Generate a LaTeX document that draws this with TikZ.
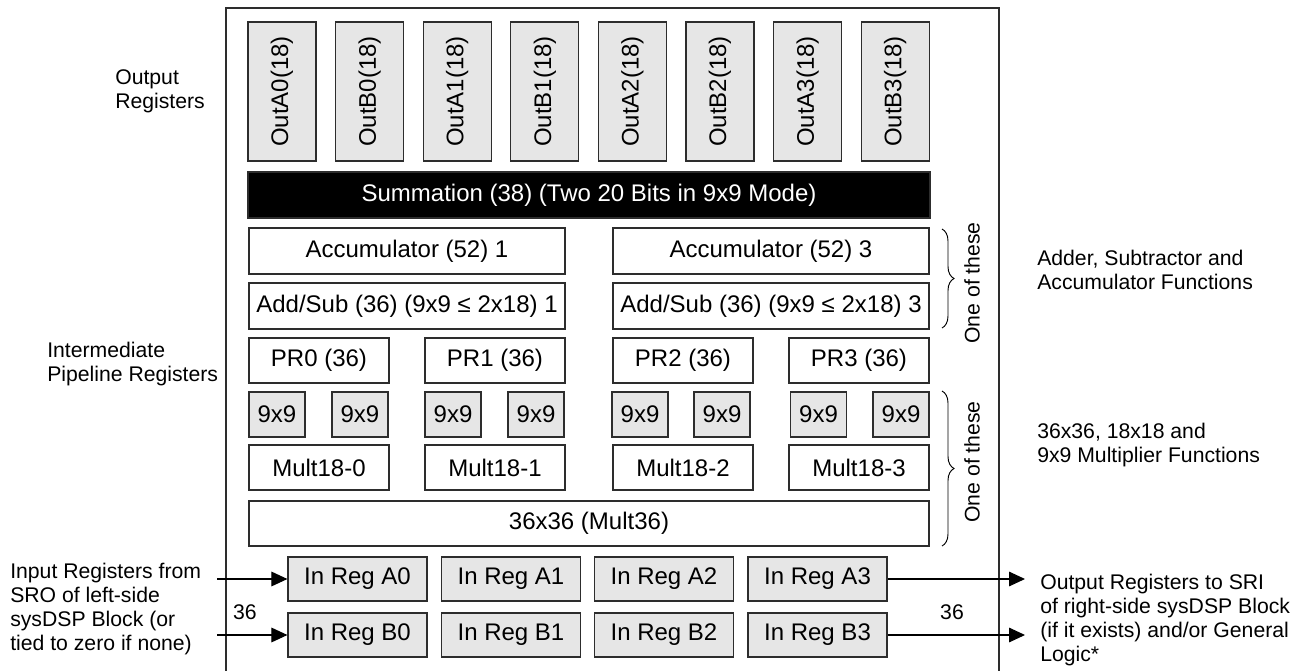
\documentclass[tikz,border=0pt]{standalone}
\usepackage{fontspec}
\setmainfont{Liberation Sans}
\usetikzlibrary{arrows.meta,decorations.pathreplacing}
\definecolor{regfill}{RGB}{230,230,230}
\definecolor{edge}{RGB}{45,45,45}
\newcommand\boxfont{\fontsize{18}{20}\selectfont}
\newcommand\lblfont{\fontsize{15.9}{18}\selectfont}
\begin{document}
\begin{tikzpicture}[x=0.75pt,y=-0.75pt,
  box/.style={draw=edge, line width=0.9pt, inner sep=0pt, font=\boxfont},
  reg/.style={box, fill=regfill},
  pbox/.style 2 args={minimum width=#1*0.75pt, minimum height=#2*0.75pt},
  lbl/.style={font=\lblfont, align=left, inner sep=0pt},
  arr/.style={-{Triangle[length=12pt,width=11pt]}, line width=0.8pt},
  brc/.style={decorate, decoration={brace, amplitude=9pt}, line width=0.7pt},
]
\useasboundingbox (0,0) rectangle (1300,671);
% frame
\draw[edge, line width=1pt] (226,671) -- (226,8) -- (999,8) -- (999,671);
% output registers
\foreach \n [count=\i from 0] in {A0,B0,A1,B1,A2,B2,A3,B3}
  \node[reg, rotate=90, pbox={139}{68}] (out\n) at ({282+87.6*\i},91.5) {Out\n(18)};
% summation
\node[box, fill=black, text=white, pbox={682}{46}] (sum) at (589,195) {Summation (38) (Two 20 Bits in 9x9 Mode)};
% accumulators / add-sub
\node[box, pbox={316}{46}] (acc1) at (407,251) {Accumulator (52) 1};
\node[box, pbox={316}{46}] (acc3) at (771,251) {Accumulator (52) 3};
\node[box, pbox={316}{46}] (add1) at (407,306) {Add/Sub (36) (9x9 ≤ 2x18) 1};
\node[box, pbox={316}{46}] (add3) at (771,306) {Add/Sub (36) (9x9 ≤ 2x18) 3};
% pipeline registers and 18x18 multipliers
\foreach \k/\x in {0/319,1/495,2/683,3/859}{
  \node[box, pbox={140}{45}] (pr\k) at (\x,360.5) {PR\k\ (36)};
  \node[box, pbox={140}{45}] (m\k) at (\x,467.5) {Mult18-\k};
}
% 9x9 multipliers
\foreach \k/\x in {a/277,b/360,c/453,d/536,e/640,f/722,g/818.5,h/901}
  \node[reg, pbox={56}{45}] (nn\k) at (\x,414.5) {9x9};
% 36x36
\node[box, pbox={680}{45}] (m36) at (589,523.5) {36x36 (Mult36)};
% input registers
\foreach \k/\x in {0/357.5,1/511,2/664,3/817.5}{
  \node[reg, pbox={139}{44}] (ra\k) at (\x,579) {In Reg A\k};
  \node[reg, pbox={139}{44}] (rb\k) at (\x,635) {In Reg B\k};
}
% arrows
\coordinate (inA) at (217,579);
\coordinate (inB) at (217,635);
\coordinate (outA) at (1025,579);
\coordinate (outB) at (1025,635);
\draw[arr] (inA) -- (ra0.west);
\draw[arr] (inB) -- (rb0.west);
\draw[arr] (ra3.east) -- (outA);
\draw[arr] (rb3.east) -- (outB);
\node[lbl] (n36l) at (245,612) {36};
\node[lbl] (n36r) at (952,612) {36};
% braces
\draw[brc] (942,229) -- (942,328);
\draw[brc] (942,391) -- (942,546);
\node[lbl, rotate=90] (one1) at (972,283) {One of these};
\node[lbl, rotate=90] (one2) at (972,462) {One of these};
% labels
\node[lbl, anchor=west] (outlbl) at (115,91) {Output\\Registers};
\node[lbl, anchor=west] (imlbl) at (47,364) {Intermediate\\Pipeline Registers};
\node[lbl, anchor=west] (addlbl) at (1037,270) {Adder, Subtractor and\\Accumulator Functions};
\node[lbl, anchor=west] (mullbl) at (1037,445) {36x36, 18x18 and\\9x9 Multiplier Functions};
\node[lbl, anchor=west] (inlbl) at (10,609) {Input Registers from\\SRO of left-side\\sysDSP Block (or\\tied to zero if none)};
\node[lbl, anchor=west] (outrlbl) at (1040,620) {Output Registers to SRI\\of right-side sysDSP Block\\(if it exists) and/or General\\Logic*};
\end{tikzpicture}
\end{document}
